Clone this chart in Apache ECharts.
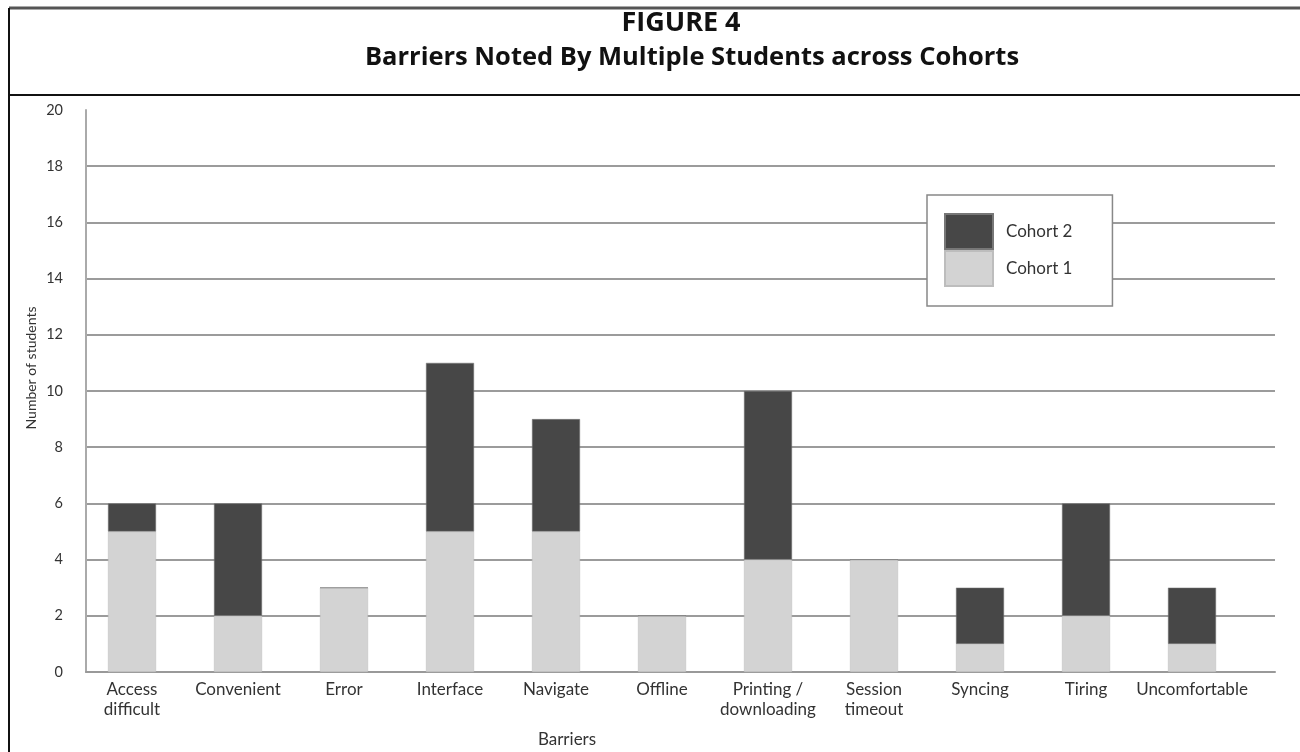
<!DOCTYPE html>
<html>
<head>
<meta charset="utf-8">
<script src="https://cdn.jsdelivr.net/npm/echarts@6/dist/echarts.min.js"></script>
<style>
  html, body { margin: 0; padding: 0; background: #fff; }
  #chart { width: 1300px; height: 752px; }
</style>
</head>
<body>
<div id="chart"></div>
<script>
// valores
const barreiras = ['Access\ndifficult', 'Convenient', 'Error', 'Interface', 'Navigate', 'Offline',
  'Printing /\ndownloading', 'Session\ntimeout', 'Syncing', 'Tiring', 'Uncomfortable'];
const cohort1 = [5, 2, 3, 5, 5, 2, 4, 4, 1, 2, 1];
const cohort2 = [1, 4, 0, 6, 4, 0, 6, 0, 2, 4, 2];
const yMin = 0, yMax = 20, yPasso = 2;

const chart = echarts.init(document.getElementById('chart'));
const fonte = 'Lato';

const option = {
  animation: false,
  backgroundColor: '#fff',
  textStyle: { fontFamily: fonte },
  graphic: [
    // moldura
    { type: 'line', shape: { x1: 9, y1: 8, x2: 1300, y2: 8 }, style: { stroke: '#555', lineWidth: 3 } },
    { type: 'line', shape: { x1: 9, y1: 8, x2: 9, y2: 752 }, style: { stroke: '#111', lineWidth: 2 } },
    { type: 'line', shape: { x1: 9, y1: 95, x2: 1300, y2: 95 }, style: { stroke: '#111', lineWidth: 2 } },
    { type: 'text', x: 681, y: 23, style: { text: 'FIGURE 4', align: 'center', verticalAlign: 'middle',
        font: 'bold 27px "Open Sans"', fill: '#111' } },
    { type: 'text', x: 692, y: 58, style: { text: 'Barriers Noted By Multiple Students across Cohorts',
        align: 'center', verticalAlign: 'middle', font: 'bold 25.5px "Open Sans"', fill: '#111' } },
    { type: 'text', x: 567, y: 740, style: { text: 'Barriers', align: 'center', verticalAlign: 'middle',
        font: '17px Lato', fill: '#333' } },
    { type: 'text', x: 31, y: 368, rotation: Math.PI / 2,
      style: { text: 'Number of students', align: 'center', verticalAlign: 'middle',
        font: '14px Lato', fill: '#333' } }
  ],
  legend: {
    data: ['Cohort 2', 'Cohort 1'],
    orient: 'vertical',
    left: 927,
    top: 195,
    padding: [18, 40, 19, 17],
    itemWidth: 48,
    itemHeight: 35,
    itemGap: 0,
    icon: 'rect',
    backgroundColor: '#fff',
    borderColor: '#888',
    borderWidth: 1.5,
    textStyle: { fontSize: 17, color: '#333', fontFamily: fonte, padding: [0, 0, 0, 8] }
  },
  grid: [
    { left: 86, right: 25, top: 110, bottom: 80 },
    { left: 79, right: 55, top: 110, bottom: 80 }
  ],
  xAxis: [
    {
      type: 'category', gridIndex: 0, data: barreiras,
      axisLine: { show: true, lineStyle: { color: '#999', width: 2 } },
      axisTick: { show: false }, axisLabel: { show: false }
    },
    {
      type: 'category', gridIndex: 1, data: barreiras,
      axisLine: { show: false }, axisTick: { show: false },
      axisLabel: { fontSize: 17, color: '#333', margin: 8, lineHeight: 20, interval: 0 }
    }
  ],
  yAxis: [
    {
      type: 'value', gridIndex: 0, min: yMin, max: yMax, interval: yPasso,
      axisLine: { show: true, lineStyle: { color: '#aaa', width: 2 } },
      axisTick: { show: false },
      axisLabel: { fontSize: 14.5, color: '#333', margin: 23 },
      splitLine: { show: true, showMaxLine: false, lineStyle: { color: '#7a7a7a', width: 1.5 } }
    },
    {
      type: 'value', gridIndex: 1, min: yMin, max: yMax, interval: yPasso,
      show: false, splitLine: { show: false }
    }
  ],
  series: [
    {
      name: 'Cohort 1', type: 'bar', stack: 'total', xAxisIndex: 1, yAxisIndex: 1,
      barWidth: 48, data: cohort1,
      itemStyle: { color: '#d3d3d3', borderColor: '#bdbdbd', borderWidth: 0.5 }
    },
    {
      name: 'Cohort 2', type: 'bar', stack: 'total', xAxisIndex: 1, yAxisIndex: 1,
      barWidth: 48, data: cohort2,
      itemStyle: { color: '#474747', borderColor: '#777', borderWidth: 0.5 }
    }
  ]
};

chart.setOption(option);
</script>
</body>
</html>
